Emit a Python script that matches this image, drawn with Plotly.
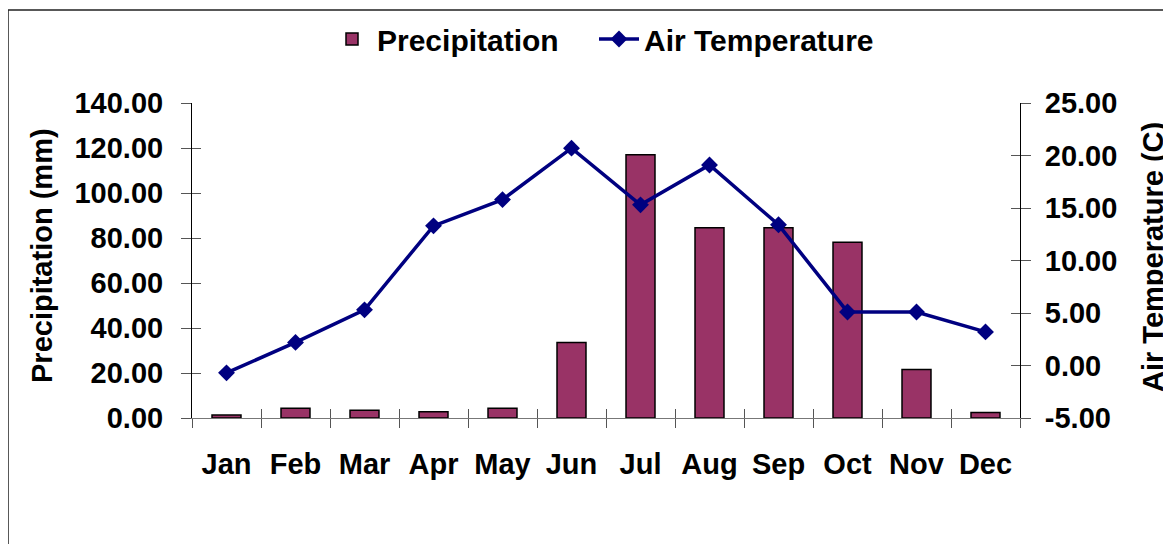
import plotly.graph_objects as go

months = ["Jan", "Feb", "Mar", "Apr", "May", "Jun", "Jul", "Aug", "Sep", "Oct", "Nov", "Dec"]
precipitation = [1.3, 4.3, 3.4, 2.8, 4.3, 33.6, 117.0, 84.6, 84.6, 78.1, 21.6, 2.5]
air_temperature = [-0.7, 2.2, 5.3, 13.3, 15.8, 20.7, 15.3, 19.1, 13.4, 5.1, 5.1, 3.2]

precip_ticks = [0, 20, 40, 60, 80, 100, 120, 140]
precip_ticktext = ["0.00", "20.00", "40.00", "60.00", "80.00", "100.00", "120.00", "140.00"]
temp_ticks = [-5, 0, 5, 10, 15, 20, 25]
temp_ticktext = ["-5.00", "0.00", "5.00", "10.00", "15.00", "20.00", "25.00"]

FONT = "Liberation Sans, Arial, sans-serif"
FS = 29
TICKC = "#555555"

# page body has an 8px margin; plot area wanted at window px x 192..1020, y 103..418
PL, PR, PT, PB = 192, 1020, 103, 418
PW, PH = PR - PL, PB - PT


def px(x):
    return (x - PL) / PW


def py(y):
    return (PB - y) / PH


fig = go.Figure()
fig.add_trace(go.Bar(
    x=months, y=precipitation, name="Precipitation",
    marker=dict(color="#993366", line=dict(color="#000000", width=1.5)),
    xaxis="x", yaxis="y", legendwidth=212,
))
fig.add_trace(go.Scatter(
    x=months, y=air_temperature, name="Air Temperature", mode="lines+markers",
    line=dict(color="#000080", width=3.5),
    marker=dict(symbol="diamond", size=13, color="#000080"),
    xaxis="x", yaxis="y2",
))
# invisible helper traces so that the inside-tick overlay axes render (crossing tick marks)
fig.add_trace(go.Scatter(x=months, y=precipitation, mode="markers", marker=dict(opacity=0),
                         showlegend=False, hoverinfo="skip", xaxis="x2", yaxis="y3"))
fig.add_trace(go.Scatter(x=months, y=air_temperature, mode="markers", marker=dict(opacity=0),
                         showlegend=False, hoverinfo="skip", xaxis="x", yaxis="y4"))

tickfont = dict(family=FONT, size=FS, color="#000000", weight="bold")

fig.update_layout(
    width=1171, height=544,
    margin=dict(l=PL - 8, r=1171 - (PR - 8), t=PT - 8, b=544 - (PB - 8), autoexpand=False),
    paper_bgcolor="white", plot_bgcolor="white",
    barmode="overlay", bargap=0.58,
    showlegend=True,
    legend=dict(orientation="h", x=px(603), xanchor="center", y=py(39), yanchor="middle",
                font=dict(family=FONT, size=30, color="#000000", weight="bold"),
                bgcolor="rgba(0,0,0,0)", itemwidth=40, tracegroupgap=0),
    xaxis=dict(type="category", categoryorder="array", categoryarray=months, range=[-0.5, 11.5],
               tickson="boundaries", ticks="outside", ticklen=9, tickwidth=1, tickcolor=TICKC,
               showline=True, linecolor="#777777", linewidth=1, showgrid=False, zeroline=False,
               tickfont=tickfont, ticklabelstandoff=20),
    xaxis2=dict(type="category", categoryorder="array", categoryarray=months, range=[-0.5, 11.5],
                overlaying="x", tickson="boundaries", ticks="inside", ticklen=9, tickwidth=1,
                tickcolor=TICKC, showticklabels=False, showline=False, showgrid=False, zeroline=False),
    yaxis=dict(range=[0, 140], tickvals=precip_ticks, ticktext=precip_ticktext,
               ticks="outside", ticklen=10, tickwidth=1, tickcolor=TICKC,
               showline=True, linecolor="#000000", linewidth=1, showgrid=False, zeroline=False,
               tickfont=tickfont, ticklabelstandoff=12),
    yaxis2=dict(range=[-5, 25], tickvals=temp_ticks, ticktext=temp_ticktext, overlaying="y", side="right",
                ticks="outside", ticklen=10, tickwidth=1, tickcolor=TICKC,
                showline=True, linecolor="#000000", linewidth=1, showgrid=False, zeroline=False,
                tickfont=tickfont, ticklabelstandoff=8),
    yaxis3=dict(range=[0, 140], tickvals=precip_ticks, overlaying="y", side="left",
                ticks="inside", ticklen=9, tickwidth=1, tickcolor=TICKC, showticklabels=False,
                showline=False, showgrid=False, zeroline=False),
    yaxis4=dict(range=[-5, 25], tickvals=temp_ticks, overlaying="y", side="right",
                ticks="inside", ticklen=9, tickwidth=1, tickcolor=TICKC, showticklabels=False,
                showline=False, showgrid=False, zeroline=False),
    annotations=[
        dict(text="Precipitation (mm)", xref="paper", yref="paper", x=px(42), y=py(256),
             showarrow=False, textangle=-90, xanchor="center", yanchor="middle",
             font=dict(family=FONT, size=FS, color="#000000", weight="bold")),
        dict(text="Air Temperature (C)", xref="paper", yref="paper", x=px(1153), y=py(257),
             showarrow=False, textangle=-90, xanchor="center", yanchor="middle",
             font=dict(family=FONT, size=FS, color="#000000", weight="bold")),
    ],
    shapes=[
        dict(type="rect", xref="paper", yref="paper", x0=px(8), x1=1.4, y0=-0.8,
             y1=py(10), line=dict(color="#222222", width=1.5), fillcolor="rgba(0,0,0,0)",
             layer="below"),
    ],
)

fig.write_html("out.html")
